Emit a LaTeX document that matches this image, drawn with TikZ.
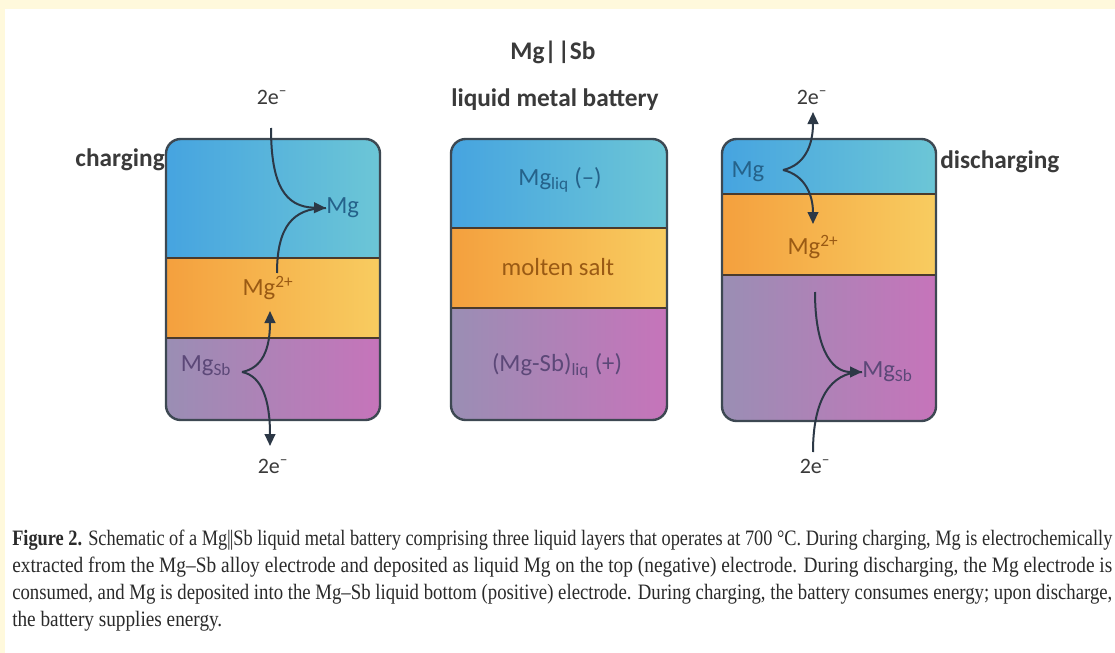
\documentclass[tikz,border=0pt]{standalone}
\usepackage{fontspec}
\setmainfont{Carlito}
\newfontfamily\capfont{Liberation Serif}
\usetikzlibrary{arrows.meta}
\definecolor{bgyel}{HTML}{FFF9DC}
\definecolor{blueL}{HTML}{46A4E0}
\definecolor{blueR}{HTML}{6CC6D6}
\definecolor{orL}{HTML}{F4A03E}
\definecolor{orR}{HTML}{F8CC60}
\definecolor{puL}{HTML}{9A8EB4}
\definecolor{puR}{HTML}{C674BA}
\definecolor{boxc}{HTML}{3D4852}
\definecolor{divc}{HTML}{4A3A2C}
\definecolor{arrowc}{HTML}{2C3846}
\definecolor{titlec}{HTML}{3A3A3A}
\definecolor{bluet}{HTML}{25628A}
\definecolor{oranget}{HTML}{9A5A14}
\definecolor{purplet}{HTML}{5C4878}
\definecolor{capc}{HTML}{2A2A2A}
\newcommand{\battbox}[6]{%
  \begin{scope}
    \clip[rounded corners=11pt] (#1,#3) rectangle (#2,#6);
    \shade[left color=blueL, right color=blueR] (#1,#3) rectangle (#2,#4);
    \shade[left color=orL, right color=orR] (#1,#4) rectangle (#2,#5);
    \shade[left color=puL, right color=puR] (#1,#5) rectangle (#2,#6);
  \end{scope}
  \draw[divider] (#1,#4) -- (#2,#4);
  \draw[divider] (#1,#5) -- (#2,#5);
  \draw[boxline] (#1,#3) rectangle (#2,#6);
}
\tikzset{
  lbl/.style={inner sep=0pt, font=\fontsize{18.5}{20}\selectfont},
  elbl/.style={inner sep=0pt, font=\fontsize{16.5}{18}\selectfont, text=titlec},
  ttl/.style={inner sep=0pt, font=\fontsize{19}{22}\selectfont\bfseries, text=titlec},
  arr/.style={draw=arrowc, line width=1.5pt, -{Triangle[length=9pt,width=8pt]}},
  plainarr/.style={draw=arrowc, line width=1.5pt},
  boxline/.style={draw=boxc, line width=1.8pt, rounded corners=11pt},
  divider/.style={draw=divc, line width=1.6pt},
  capline/.style={anchor=base west, inner sep=0pt, text=capc, font=\capfont\fontsize{16.5}{18}\selectfont},
}
\begin{document}
\begin{tikzpicture}[x=0.75pt,y=-0.75pt]
\path[use as bounding box] (0,0) rectangle (1115,653);
\clip (0,0) rectangle (1115,653);
\fill[white] (0,0) rectangle (1115,653);
\fill[bgyel] (0,0) rectangle (1115,9);
\fill[bgyel] (0,0) rectangle (5,653);

% title
\node[ttl] (t1) at (553,52) {Mg|\kern1pt|Sb};
\node[ttl] (t2) at (555,100) {liquid metal battery};
\node[ttl, anchor=east] (chg) at (165,160) {charging};
\node[ttl, anchor=west] (dchg) at (940,162) {discharging};

% boxes
\battbox{166}{380}{139}{258}{338}{420}
\battbox{451}{667}{139}{228}{308}{420}
\battbox{722}{936}{139}{194}{275}{421}

% left box labels
\node[elbl] (eTL) at (272,97) {2e\textsuperscript{–}};
\node[elbl] (eBL) at (273,466) {2e\textsuperscript{–}};
\node[lbl, text=bluet, anchor=west] (mgL) at (326,208) {Mg};
\node[lbl, text=oranget] (m2L) at (268,288) {Mg\textsuperscript{2+}};
\node[lbl, text=purplet] (msL) at (206,366) {Mg\textsubscript{Sb}};
\coordinate (aTL) at (271,128);
\coordinate (aML) at (277,273);
\coordinate (vL) at (242,372);
\coordinate (tUL) at (270,311);
\coordinate (tDL) at (270,446);
\draw[arr] (aTL) .. controls (271,185) and (285,207) .. (mgL.west);
\draw[plainarr] (aML) .. controls (277,228) and (292,208) .. (mgL.west);
\draw[arr] (vL) .. controls (262,368) and (270,350) .. (tUL);
\draw[arr] (vL) .. controls (262,376) and (270,400) .. (tDL);

% middle labels
\node[lbl, text=bluet] (mliq) at (560,180) {Mg\textsubscript{liq} (–)};
\node[lbl, text=oranget] (salt) at (558,267) {molten salt};
\node[lbl, text=purplet] (mgsb) at (557,366) {(Mg-Sb)\textsubscript{liq} (+)};

% right box labels
\node[elbl] (eTR) at (812,97) {2e\textsuperscript{–}};
\node[elbl] (eBR) at (815,466) {2e\textsuperscript{–}};
\node[lbl, text=bluet] (mgR) at (748,172) {Mg};
\node[lbl, text=oranget] (m2R) at (813,247) {Mg\textsuperscript{2+}};
\node[lbl, text=purplet, anchor=west] (msR) at (862,372) {Mg\textsubscript{Sb}};
\coordinate (vR) at (783,170);
\coordinate (tUR) at (813,112);
\coordinate (tDR) at (813,224);
\coordinate (aMR) at (815,292);
\coordinate (aBR) at (813,452);
\draw[arr] (vR) .. controls (805,165) and (813,145) .. (tUR);
\draw[arr] (vR) .. controls (805,175) and (813,195) .. (tDR);
\draw[arr] (aMR) .. controls (815,345) and (830,372) .. (msR.west);
\draw[plainarr] (aBR) .. controls (813,400) and (830,372) .. (msR.west);

% caption
\node[capline] (c1) at (12,545) {\resizebox{825pt}{\height}{\textbf{Figure 2.} Schematic of a Mg|\kern-1pt|Sb liquid metal battery comprising three liquid layers that operates at 700 °C. During charging, Mg is electrochemically}};
\node[capline] (c2) at (12,572) {\resizebox{825pt}{\height}{extracted from the Mg–Sb alloy electrode and deposited as liquid Mg on the top (negative) electrode. During discharging, the Mg electrode is}};
\node[capline] (c3) at (12,599) {\resizebox{825pt}{\height}{consumed, and Mg is deposited into the Mg–Sb liquid bottom (positive) electrode. During charging, the battery consumes energy; upon discharge,}};
\node[capline] (c4) at (12,626) {\resizebox{157.5pt}{\height}{the battery supplies energy.}};
\end{tikzpicture}
\end{document}
